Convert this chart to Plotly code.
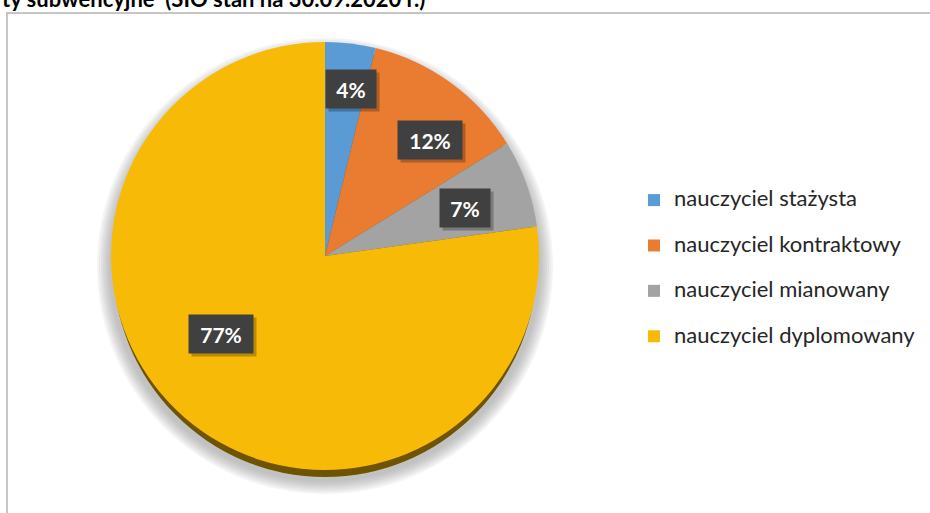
import math

import plotly.graph_objects as go

# ── Data ──────────────────────────────────────────────────────────────────────
labels = [
    "nauczyciel stażysta",
    "nauczyciel kontraktowy",
    "nauczyciel mianowany",
    "nauczyciel dyplomowany",
]
shares = [3.8, 12.4, 6.6, 77.2]
pie_colors = ["#5A9AD5", "#EA7C31", "#A3A3A3", "#F7BB07"]
title_text = "ty subwencyjne&nbsp; (SIO stan na 30.09.2020 r.)"

# ── Geometry (pixels) ─────────────────────────────────────────────────────────
W, H = 930, 513
CX, CY, R = 325, 256, 214
label_r = [0.79, 0.73, 0.69, 0.61]     # radial position of each label box
label_nudge = [2, 6, 1, 12]            # angular nudge, degrees
FONT = "Lato"


def px_x(x):
    return x / W


def px_y(y):
    return 1 - y / H


# legend: small base font keeps the row pitch, a span enlarges the visible text
legend_labels = [f"<span style='font-size:22px'>{l}</span><br>\u00a0" for l in labels]

fig = go.Figure(go.Pie(
    labels=legend_labels,
    values=shares,
    sort=False,
    direction="clockwise",
    rotation=0,
    marker={"colors": pie_colors, "line": {"width": 0}},
    textinfo="none",
    hoverinfo="percent",
    domain={"x": [px_x(CX - R), px_x(CX + R)],
            "y": [px_y(CY + R), px_y(CY - R)]},
))

# soft shadow + darker rim under the pie
shapes = []
for k in range(7, 0, -1):
    rr = R + 2 * k
    shapes.append(dict(
        type="circle", xref="paper", yref="paper", layer="below",
        x0=px_x(CX - rr), x1=px_x(CX + rr),
        y0=px_y(CY + 10 + rr), y1=px_y(CY + 10 - rr),
        fillcolor="rgba(130,130,130,0.09)", line={"width": 0},
    ))
shapes.append(dict(
    type="circle", xref="paper", yref="paper", layer="below",
    x0=px_x(CX - R + 2), x1=px_x(CX + R - 2),
    y0=px_y(CY + 7 + R), y1=px_y(CY + 7 - R),
    fillcolor="#6E5300", line={"width": 0},
))
# chart frame
shapes.append(dict(
    type="rect", xref="paper", yref="paper", layer="below",
    x0=px_x(7), x1=1.02, y0=-0.02, y1=px_y(13),
    line={"color": "#C6C6C6", "width": 2}, fillcolor="rgba(0,0,0,0)",
))

# percentage labels in dark boxes, placed from the slice angles
annotations = []
total = sum(shares)
cum = 0.0
for share, frac, nudge in zip(shares, label_r, label_nudge):
    mid = (cum + share / 2) / total * 360 + nudge
    cum += share
    lx = CX + R * frac * math.sin(math.radians(mid))
    ly = CY - R * frac * math.cos(math.radians(mid))
    txt = f"{round(share / total * 100)}%"
    bw = 20 + 14 * len(txt)
    common = dict(xref="paper", yref="paper", x=px_x(lx), y=px_y(ly),
                  xanchor="center", yanchor="middle", showarrow=False,
                  width=bw, height=36)
    annotations.append(dict(common, text="", xshift=3, yshift=-3,
                            bgcolor="rgba(0,0,0,0.25)"))
    annotations.append(dict(common, text=f"<b>{txt}</b>", bgcolor="#404040",
                            font={"family": FONT, "size": 21, "color": "white"}))

annotations.append(dict(
    xref="paper", yref="paper", x=0, y=px_y(14), xanchor="left",
    yanchor="bottom", showarrow=False, text=f"<b>{title_text}</b>",
    font={"family": FONT, "size": 22, "color": "black"},
))

fig.update_layout(
    width=W, height=H,
    margin={"t": 0, "b": 0, "l": 0, "r": 0, "autoexpand": False},
    paper_bgcolor="white",
    shapes=shapes,
    annotations=annotations,
    legend={
        "x": px_x(634), "y": px_y(183), "xanchor": "left", "yanchor": "top",
        "valign": "top", "traceorder": "normal",
        "font": {"family": FONT, "size": 16.3, "color": "#262626"},
    },
)

# the page's default body margin would push the chart 8px off the window
fig.write_html("out.html", config={"displayModeBar": False},
               post_script="document.body.style.margin = '0';")
